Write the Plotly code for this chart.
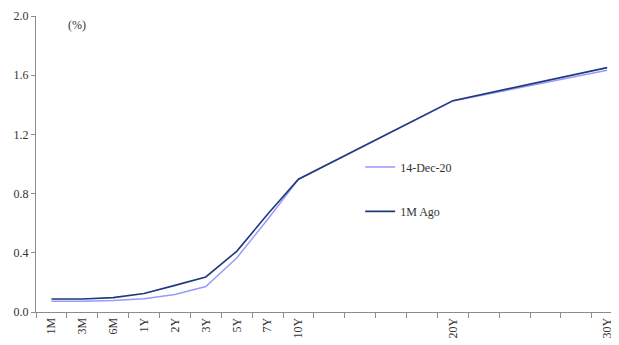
import plotly.graph_objects as go

# Tenor labels (categories) and axis category order including blank spacers
tenors = ["1M", "3M", "6M", "1Y", "2Y", "3Y", "5Y", "7Y", "10Y", "20Y", "30Y"]
category_order = ["1M", "3M", "6M", "1Y", "2Y", "3Y", "5Y", "7Y", "10Y",
                  " ", "  ", "   ", "    ", "20Y",
                  "     ", "      ", "       ", "        ", "30Y"]

# Yields (%)
dec14 = [0.072, 0.072, 0.078, 0.089, 0.118, 0.172, 0.365, 0.625, 0.897, 1.425, 1.633]
m1_ago = [0.088, 0.088, 0.097, 0.125, 0.18, 0.237, 0.41, 0.66, 0.897, 1.428, 1.651]

y_ticks = [0.0, 0.4, 0.8, 1.2, 1.6, 2.0]

font_family = "Liberation Serif"
axis_color = "#8c8c8c"
text_color = "#333333"

fig = go.Figure()
fig.add_trace(go.Scatter(
    x=tenors, y=dec14, mode="lines", name="14-Dec-20",
    line=dict(color="#9999FF", width=1.5), legend="legend",
))
fig.add_trace(go.Scatter(
    x=tenors, y=m1_ago, mode="lines", name="1M Ago",
    line=dict(color="#1F3A7A", width=1.6), legend="legend2",
))

legend_common = dict(
    font=dict(family=font_family, size=12, color=text_color),
    bgcolor="rgba(0,0,0,0)", borderwidth=0,
    xanchor="left", yanchor="middle",
)

fig.update_layout(
    width=611, height=337,
    margin=dict(l=28, r=1, t=8, b=33),
    paper_bgcolor="white", plot_bgcolor="white",
    font=dict(family=font_family, size=12, color=text_color),
    showlegend=True,
    legend=dict(x=0.557, y=0.49, **legend_common),
    legend2=dict(x=0.557, y=0.34, **legend_common),
    xaxis=dict(
        type="category", categoryorder="array", categoryarray=category_order,
        range=[-0.5, 18.35], tickson="boundaries",
        ticks="outside", ticklen=5, tickcolor=axis_color, tickwidth=1,
        tickangle=-90, showline=True, linecolor=axis_color, linewidth=1,
        showgrid=False, zeroline=False, automargin=False,
        tickfont=dict(family=font_family, size=12, color=text_color),
    ),
    yaxis=dict(
        range=[0, 2.0], tickvals=y_ticks, tickformat=".1f",
        ticks="outside", ticklen=4, tickcolor=axis_color, tickwidth=1,
        showline=True, linecolor=axis_color, linewidth=1,
        showgrid=False, zeroline=False, automargin=False,
        tickfont=dict(family=font_family, size=12, color=text_color),
    ),
    annotations=[dict(
        text="(%)", xref="paper", yref="paper", x=0.0705, y=0.97,
        xanchor="center", yanchor="middle", showarrow=False,
        font=dict(family=font_family, size=12, color=text_color),
    )],
)

fig.write_html("out.html")
